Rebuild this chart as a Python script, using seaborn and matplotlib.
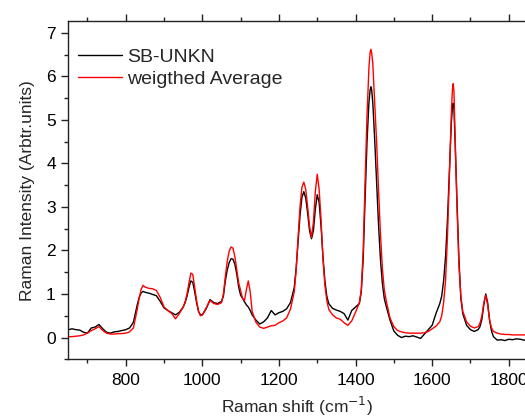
import numpy as np
import pandas as pd
import matplotlib
matplotlib.use("Agg")
import matplotlib.pyplot as plt
from matplotlib.ticker import MultipleLocator
import seaborn as sns

wavenumber = [650,660,670,680,690,700,710,720,730,740,750,760,770,780,790,800,810,820,830,835,
              840,845,850,860,870,880,890,900,910,920,930,940,950,955,960,965,970,975,980,985,
              990,995,1000,1010,1020,1030,1040,1050,1055,1060,1065,1070,1075,1080,1085,1090,1095,1100,1105,1110,
              1115,1120,1125,1130,1140,1150,1160,1170,1180,1190,1200,1210,1220,1230,1240,1245,1250,1255,1260,1265,
              1270,1275,1280,1285,1290,1295,1300,1305,1310,1315,1320,1325,1330,1340,1350,1360,1370,1380,1390,1400,
              1410,1415,1420,1425,1430,1435,1438,1440,1442,1445,1450,1455,1460,1465,1470,1475,1480,1490,1500,1510,
              1520,1530,1540,1550,1560,1570,1580,1590,1600,1610,1620,1625,1630,1635,1640,1645,1650,1653,1655,1657,
              1660,1665,1670,1675,1680,1690,1700,1710,1720,1725,1730,1735,1740,1745,1750,1755,1760,1770,1780,1790,
              1800,1810,1820,1830,1840,1850]

sb_unkn = [0.18,0.20,0.18,0.17,0.12,0.10,0.22,0.24,0.30,0.20,0.12,0.10,0.13,0.14,0.16,0.18,0.22,0.35,0.75,0.92,
           1.02,1.06,1.04,1.02,0.99,0.96,0.83,0.68,0.62,0.57,0.52,0.58,0.70,0.80,0.95,1.15,1.30,1.27,1.05,0.80,
           0.60,0.52,0.52,0.66,0.87,0.80,0.78,0.83,0.95,1.30,1.55,1.72,1.81,1.80,1.68,1.45,1.15,0.97,0.90,0.82,
           0.75,0.70,0.62,0.52,0.40,0.31,0.36,0.45,0.62,0.52,0.57,0.60,0.66,0.80,1.15,1.60,2.20,2.80,3.22,3.35,
           3.20,2.85,2.45,2.27,2.45,2.95,3.28,3.10,2.55,1.85,1.30,0.95,0.78,0.67,0.63,0.60,0.55,0.40,0.62,0.70,
           0.78,1.05,1.80,3.20,4.50,5.40,5.68,5.76,5.70,5.40,4.55,3.60,2.60,1.80,1.25,0.90,0.72,0.40,0.15,0.05,
           0.00,0.03,0.02,0.04,0.01,-0.02,0.08,0.18,0.28,0.55,0.78,0.95,1.30,1.85,2.70,3.80,4.90,5.30,5.38,5.25,
           4.50,3.10,1.80,0.90,0.55,0.28,0.18,0.14,0.18,0.25,0.42,0.75,1.00,0.80,0.40,0.15,0.02,-0.06,-0.05,-0.07,
           -0.04,-0.05,-0.03,-0.04,-0.06,-0.05]

weighted_avg = [0.02,0.02,0.03,0.04,0.06,0.10,0.16,0.20,0.25,0.16,0.10,0.08,0.08,0.09,0.09,0.10,0.13,0.22,0.65,0.90,
                1.10,1.20,1.16,1.13,1.12,1.08,0.92,0.70,0.62,0.55,0.43,0.55,0.70,0.82,1.00,1.25,1.48,1.45,1.15,0.85,
                0.60,0.50,0.52,0.68,0.85,0.78,0.76,0.80,1.00,1.40,1.75,1.98,2.08,2.05,1.85,1.55,1.25,1.08,0.90,0.85,
                1.10,1.30,1.05,0.60,0.35,0.24,0.21,0.24,0.27,0.28,0.34,0.38,0.45,0.65,1.05,1.55,2.30,3.00,3.45,3.57,
                3.40,3.00,2.55,2.30,2.65,3.35,3.75,3.40,2.70,1.80,1.20,0.85,0.65,0.52,0.45,0.42,0.34,0.28,0.38,0.58,
                0.80,1.10,2.00,3.60,5.10,6.20,6.55,6.62,6.55,6.30,5.40,4.50,3.40,2.40,1.60,1.10,0.85,0.45,0.25,0.16,
                0.13,0.11,0.10,0.10,0.10,0.10,0.11,0.14,0.20,0.26,0.36,0.50,0.80,1.30,2.30,3.70,5.10,5.70,5.83,5.65,
                4.60,3.00,1.65,0.95,0.60,0.36,0.26,0.22,0.25,0.33,0.50,0.80,0.97,0.75,0.40,0.22,0.14,0.10,0.08,0.07,
                0.07,0.06,0.06,0.06,0.06,0.06]

series_names = ["SB-UNKN", "weigthed Average"]
series_colors = ["black", "red"]

df = pd.concat([
    pd.DataFrame({"shift": wavenumber, "intensity": sb_unkn, "series": series_names[0]}),
    pd.DataFrame({"shift": wavenumber, "intensity": weighted_avg, "series": series_names[1]}),
])

sns.set_style("ticks")
plt.rcParams["font.family"] = ["Liberation Sans", "DejaVu Sans"]

fig = plt.figure(figsize=(5.25, 4.17), dpi=100)
ax = fig.add_axes([0.1301, 0.1384, 0.8699, 0.8113])

sns.lineplot(data=df, x="shift", y="intensity", hue="series", palette=series_colors,
             hue_order=series_names, linewidth=1.0, ax=ax, sort=False, estimator=None)

ax.set_xlim(650, 1842.5)
ax.set_ylim(-0.5, 7.27)
ax.xaxis.set_major_locator(MultipleLocator(200))
ax.xaxis.set_minor_locator(MultipleLocator(100))
ax.yaxis.set_major_locator(MultipleLocator(1))
ax.yaxis.set_minor_locator(MultipleLocator(0.5))

ax.tick_params(which="both", direction="out", top=True, right=False, width=1.0, colors="#222222",
               labelsize=12.5, labelcolor="black")
ax.tick_params(which="major", length=5)
ax.tick_params(which="minor", length=3)
ax.tick_params(axis="x", pad=5)
ax.tick_params(axis="y", pad=4)

for side in ["left", "bottom", "top"]:
    ax.spines[side].set_visible(True)
    ax.spines[side].set_color("#222222")
    ax.spines[side].set_linewidth(1.0)
ax.spines["right"].set_visible(False)

ax.set_xlabel("Raman shift (cm$^{-1}$)", fontsize=12.5, labelpad=5)
ax.set_ylabel("Raman Intensity (Arbtr.units)", fontsize=12.5, labelpad=8)

leg = ax.legend(loc="upper left", frameon=False, fontsize=14, handlelength=2.25,
                handletextpad=0.3, borderaxespad=0.0, borderpad=0.0, labelspacing=0.24,
                bbox_to_anchor=(0.021, 0.919))

fig.savefig("out.png", dpi=100)
